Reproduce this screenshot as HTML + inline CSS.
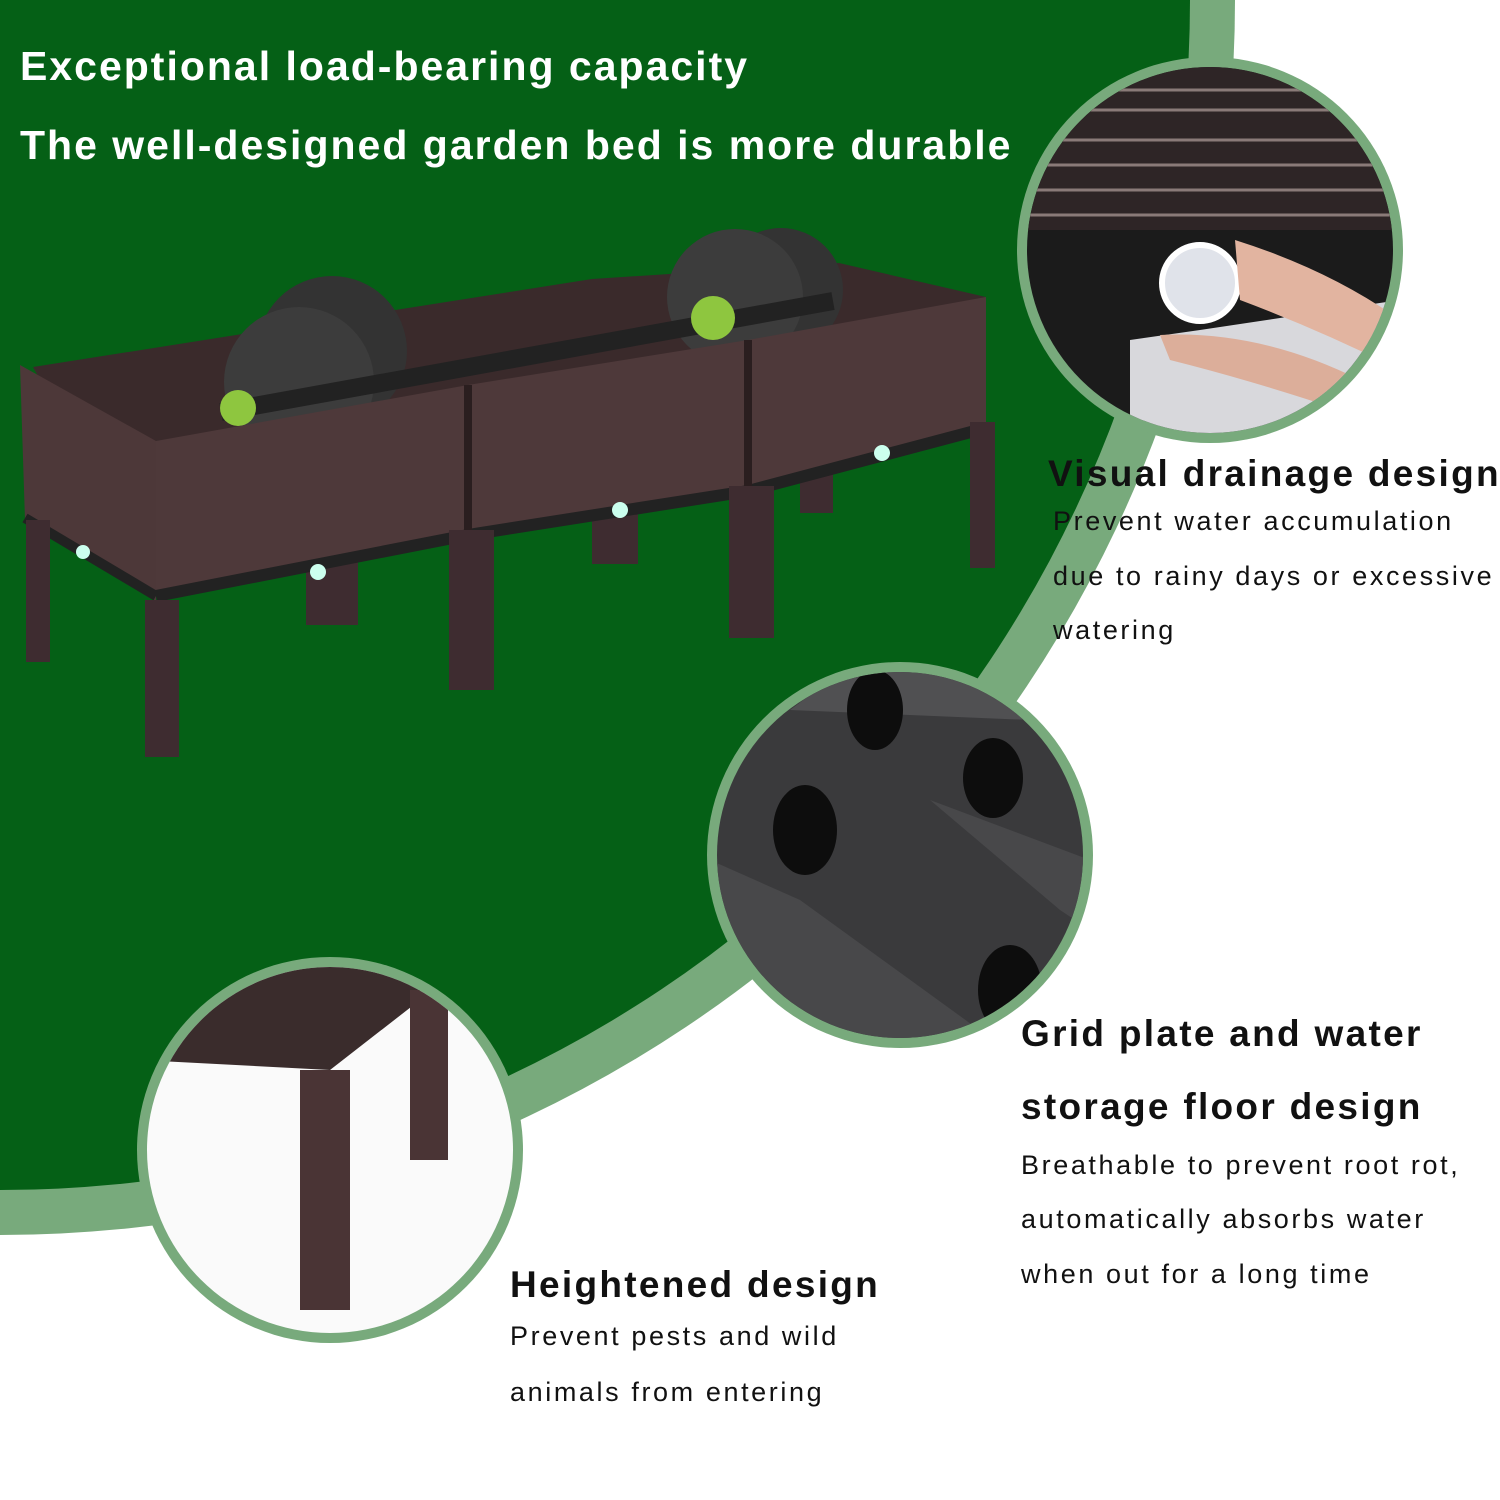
<!DOCTYPE html>
<html><head><meta charset="utf-8"><style>
html,body{margin:0;padding:0;background:#fff;}
#c{position:relative;width:1500px;height:1500px;overflow:hidden;background:#fff;font-family:"Liberation Sans",sans-serif;}
.t{position:absolute;font-weight:bold;white-space:nowrap;}
.w{color:#fff;font-size:41px;letter-spacing:2px;}
.h{color:#111;font-size:37px;letter-spacing:2.3px;}
.b{color:#111;font-size:27px;font-weight:normal;letter-spacing:2.6px;}
</style></head><body><div id="c">
<svg width="1500" height="1500" style="position:absolute;left:0;top:0">
<circle cx="0" cy="0" r="1235" fill="#78aa7c"/>
<circle cx="0" cy="0" r="1190" fill="#056016"/>
<polygon points="33,367 592,279 839,263 986,297 986,422 156,591" fill="#3a2a2b"/>
<rect x="306" y="540" width="52" height="85" fill="#3e2c30"/>
<rect x="592" y="480" width="46" height="84" fill="#3e2c30"/>
<rect x="800" y="440" width="33" height="73" fill="#3e2c30"/>
<circle cx="332" cy="351" r="75" fill="#333"/>
<circle cx="299" cy="382" r="75" fill="#3c3c3c"/>
<circle cx="781" cy="290" r="62" fill="#333"/>
<circle cx="735" cy="297" r="68" fill="#3c3c3c"/>
<line x1="221" y1="412" x2="833" y2="301" stroke="#222" stroke-width="18"/>
<circle cx="238" cy="408" r="18" fill="#8ec63f"/>
<circle cx="713" cy="318" r="22" fill="#8ec63f"/>
<polygon points="20,365 156,441 156,601 25,520" fill="#4d3839"/>
<polygon points="156,441 468,385 748,340 986,297 986,422 748,486 468,530 156,591" fill="#4e393a"/>
<polyline points="156,596 468,535 748,491 986,428" fill="none" stroke="#222" stroke-width="12"/>
<polyline points="25,518 156,596" fill="none" stroke="#222" stroke-width="10"/>
<line x1="468" y1="385" x2="468" y2="530" stroke="#2a1e1f" stroke-width="8"/>
<line x1="748" y1="340" x2="748" y2="486" stroke="#2a1e1f" stroke-width="8"/>
<rect x="26" y="520" width="24" height="142" fill="#3e2c30"/>
<rect x="145" y="600" width="34" height="157" fill="#3e2c30"/>
<rect x="449" y="530" width="45" height="160" fill="#3e2c30"/>
<rect x="729" y="486" width="45" height="152" fill="#3e2c30"/>
<rect x="970" y="422" width="25" height="146" fill="#3e2c30"/>
<circle cx="318" cy="572" r="8" fill="#cfe"/><circle cx="620" cy="510" r="8" fill="#cfe"/><circle cx="882" cy="453" r="8" fill="#cfe"/><circle cx="83" cy="552" r="7" fill="#cfe"/>
<circle cx="1210" cy="250" r="193" fill="#78aa7c"/>
<clipPath id="k1"><circle cx="1210" cy="250" r="183"/></clipPath>
<g clip-path="url(#k1)">
<rect x="1020" y="60" width="380" height="380" fill="#1b1b1b"/>
<rect x="1020" y="60" width="380" height="170" fill="#2e2526"/>
<g stroke="#8a7a78" stroke-width="3"><line x1="1020" y1="90" x2="1400" y2="90"/><line x1="1020" y1="110" x2="1400" y2="110"/><line x1="1020" y1="140" x2="1400" y2="140"/><line x1="1020" y1="165" x2="1400" y2="165"/><line x1="1020" y1="190" x2="1400" y2="190"/><line x1="1020" y1="215" x2="1400" y2="215"/></g>
<polygon points="1130,340 1200,330 1400,300 1400,440 1130,440" fill="#d8d8dc"/>
<circle cx="1200" cy="283" r="38" fill="#e0e3ea" stroke="#fff" stroke-width="6"/>
<path d="M1235,240 Q1330,270 1400,320 L1400,370 Q1320,330 1240,300 Z" fill="#e2b4a0"/>
<path d="M1160,335 Q1260,330 1360,380 L1340,410 Q1250,380 1170,360 Z" fill="#dcae9a"/>
</g>
<circle cx="900" cy="855" r="193" fill="#78aa7c"/>
<clipPath id="k2"><circle cx="900" cy="855" r="183"/></clipPath>
<g clip-path="url(#k2)">
<rect x="710" y="665" width="380" height="380" fill="#3a3a3c"/>
<polygon points="790,710 850,665 1090,665 1090,760 1030,720" fill="#505052"/>
<polygon points="710,860 800,900 1000,1045 710,1045" fill="#48484a"/>
<polygon points="930,800 1090,860 1090,930 1060,910" fill="#48484a"/>
<ellipse cx="875" cy="710" rx="28" ry="40" fill="#0d0d0d"/>
<ellipse cx="993" cy="778" rx="30" ry="40" fill="#0d0d0d"/>
<ellipse cx="805" cy="830" rx="32" ry="45" fill="#0d0d0d"/>
<ellipse cx="1010" cy="990" rx="32" ry="45" fill="#0d0d0d"/>
</g>
<circle cx="330" cy="1150" r="193" fill="#78aa7c"/>
<clipPath id="k3"><circle cx="330" cy="1150" r="183"/></clipPath>
<g clip-path="url(#k3)">
<rect x="140" y="960" width="380" height="380" fill="#fafafa"/>
<polygon points="140,960 420,960 420,1000 330,1070 140,1060" fill="#3a2c2c"/>
<rect x="300" y="1070" width="50" height="240" fill="#4a3435"/>
<rect x="410" y="990" width="38" height="170" fill="#4a3435"/>
</g>
</svg>
<div class="t w" style="left:20px;top:43px;">Exceptional load-bearing capacity</div>
<div class="t w" style="left:20px;top:122px;">The well-designed garden bed is more durable</div>
<div class="t h" style="left:1048px;top:453px;">Visual drainage design</div>
<div class="t b" style="left:1053px;top:506px;">Prevent water accumulation</div>
<div class="t b" style="left:1053px;top:561px;">due to rainy days or excessive</div>
<div class="t b" style="left:1053px;top:615px;">watering</div>
<div class="t h" style="left:1021px;top:1013px;">Grid plate and water</div>
<div class="t h" style="left:1021px;top:1086px;">storage floor design</div>
<div class="t b" style="left:1021px;top:1150px;">Breathable to prevent root rot,</div>
<div class="t b" style="left:1021px;top:1204px;">automatically absorbs water</div>
<div class="t b" style="left:1021px;top:1259px;">when out for a long time</div>
<div class="t h" style="left:510px;top:1264px;">Heightened design</div>
<div class="t b" style="left:510px;top:1321px;">Prevent pests and wild</div>
<div class="t b" style="left:510px;top:1377px;">animals from entering</div>
</div></body></html>
